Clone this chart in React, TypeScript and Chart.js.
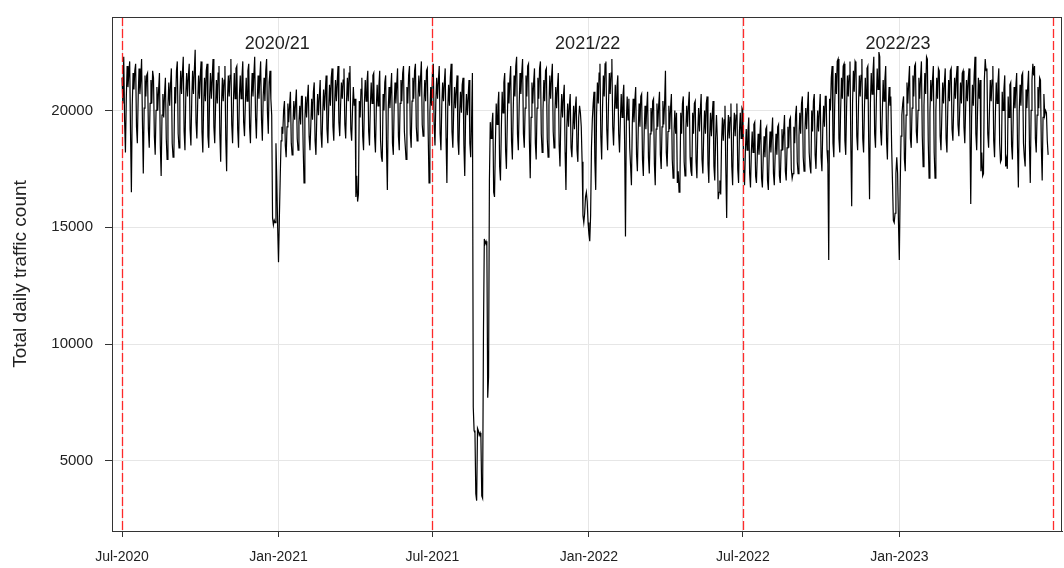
import React, { useEffect, useRef } from 'react';
import { Chart, registerables } from 'chart.js';

Chart.register(...registerables);

const FONT = '"Liberation Sans", Arial, sans-serif';

const startDate = '2020-07-01';
const tickDates = ['2020-07-01', '2021-01-01', '2021-07-01', '2022-01-01', '2022-07-01', '2023-01-01'];
const tickLabels = ['Jul-2020', 'Jan-2021', 'Jul-2021', 'Jan-2022', 'Jul-2022', 'Jan-2023'];
const seasonBoundaryDates = ['2020-07-01', '2021-07-01', '2022-07-01', '2023-07-01'];
const seasonLabels = ['2020/21', '2021/22', '2022/23'];
const yTicks = [5000, 10000, 15000, 20000];

// Daily totals, 1 Jul 2020 - 30 Jun 2021
const traffic2020_21 = [
  21400, 20300, 22300, 19600, 18200,
  20500, 21900, 21000, 21600, 22100, 19000, 16500,
  20200, 21600, 20900, 21700, 22000, 19300, 18600,
  20600, 21800, 20700, 21300, 22200, 19500, 17300,
  20100, 21500, 20600, 21500, 21600, 19200, 18400,
  20300, 21300, 20300, 21700, 21400, 18900, 18100,
  20000, 21000, 20000, 20900, 21600, 18500, 17200,
  19800, 20700, 19700, 20700, 21400, 18800, 17900,
  20200, 21200, 20200, 21100, 21800, 18600, 18000,
  18200, 21000, 20300, 21700, 22100, 19000, 18400,
  20600, 21700, 20700, 21600, 22300, 19100, 18300,
  20700, 21600, 20600, 21500, 22000, 19200, 18500,
  20500, 21700, 20700, 21700, 22600, 19500, 18800,
  20400, 21500, 20500, 21500, 22100, 19100, 18200,
  20300, 21400, 20400, 21700, 22000, 18900, 18400,
  20600, 21600, 20500, 21400, 22200, 19300, 18600,
  20200, 21300, 20300, 21600, 21900, 19000, 17800,
  20300, 21400, 20400, 21300, 21900, 18700, 17400,
  20500, 21500, 20600, 21500, 22200, 19400, 18600,
  20400, 21600, 20500, 21800, 21900, 19200, 18400,
  20600, 21500, 20500, 21400, 22100, 19500, 18900,
  20300, 21400, 20400, 21700, 22000, 19300, 18600,
  20500, 21600, 20600, 21500, 22300, 19700, 18800,
  20400, 21500, 20500, 21400, 22100, 19600, 18700,
  20600, 21400, 20400, 21700, 22200, 19900, 19000,
  21200, 21700, 20500, 19800, 15400, 15100, 15300,
  15200, 18600, 17000, 15000, 13500, 15400, 17100,
  18700, 19300, 19000, 20000, 20400, 18500, 18000,
  19300, 20300, 19500, 20200, 20800, 18600, 18100,
  19400, 20400, 19600, 20300, 20900, 18800, 18300,
  19500, 20200, 19400, 20600, 20600, 18400, 16900,
  19600, 20600, 19700, 20500, 21100, 18900, 18300,
  19400, 20500, 19600, 20800, 21200, 18700, 18100,
  19700, 20700, 19800, 20600, 21300, 19000, 18400,
  19900, 20900, 20000, 20800, 21500, 19200, 18600,
  20100, 21100, 20200, 21400, 21800, 19300, 18700,
  20300, 21300, 20400, 21200, 21900, 19500, 18900,
  20200, 21200, 20500, 21300, 21800, 19400, 18800,
  20400, 21400, 20400, 21600, 21900, 19200, 18700,
  20000, 21000, 20200, 20500, 16300, 17200, 16100,
  16400, 20400, 19700, 20900, 21400, 18900, 18300,
  20300, 21300, 20400, 21200, 21700, 19100, 18500,
  20200, 21200, 20300, 21500, 21600, 18900, 18200,
  20100, 21100, 20200, 21000, 21700, 18700, 18000,
  17800, 20700, 20000, 21200, 21500, 18400, 16600,
  20000, 21000, 20100, 20900, 21600, 18600, 18100,
  20200, 21200, 20300, 21100, 21800, 18900, 18300,
  20300, 21300, 20400, 21600, 21900, 19100, 18500,
  17900, 21000, 20300, 21500, 21900, 19000, 18400,
  20400, 21400, 20500, 21700, 22000, 19300, 18700,
  20500, 21500, 20600, 21400, 22100, 19400, 18900,
  20300, 21300, 20400, 21700, 21800, 19000, 16900,
  19900, 21000, 20200,
];

// Daily totals, 1 Jul 2021 - 30 Jun 2022
const traffic2021_22 = [
  21600, 22000, 19400, 18500,
  20400, 21400, 20500, 21300, 21900, 19000, 18300,
  20200, 21200, 20400, 21200, 21800, 18800, 16900,
  20100, 21100, 20200, 21400, 22000, 19100, 18400,
  20000, 21000, 20100, 20900, 21500, 18700, 18100,
  19900, 20800, 19900, 21100, 21400, 18500, 17200,
  19700, 20700, 19800, 20600, 21300, 18600, 18000,
  19500, 21600, 7300, 6300, 6200, 3600, 3300,
  6400, 6300, 6100, 6200, 6000, 3500, 3400,
  10500, 14500, 14300, 14400, 14200, 7700, 8600,
  17000, 19500, 18800, 19400, 19900, 16500, 16300,
  18500, 20300, 19400, 20200, 20800, 17600, 17000,
  19200, 20800, 19900, 21200, 21600, 18300, 17500,
  19500, 21200, 20300, 21300, 21900, 18700, 17900,
  20000, 21500, 20600, 21900, 22300, 19000, 18300,
  20200, 21600, 20700, 21600, 22200, 19000, 18400,
  20100, 21500, 20600, 21900, 22000, 18700, 17100,
  19700, 21200, 20300, 21200, 21800, 18600, 17900,
  20100, 21400, 20500, 21800, 22100, 19000, 18200,
  20000, 21300, 20400, 21700, 21800, 18800, 18000,
  20200, 21500, 20500, 21400, 22000, 19100, 18400,
  19900, 21000, 20100, 21000, 21600, 18500, 17600,
  19700, 20700, 19700, 20600, 21100, 18200, 16600,
  19300, 20300, 19300, 20200, 20700, 18400, 18000,
  19200, 20200, 19200, 20100, 20600, 18300, 17800,
  19700, 20200, 19900, 19300, 17800, 15500, 15200,
  15600, 16300, 16500, 16100, 15200, 14700, 14400,
  15500, 18400, 19600, 20300, 20800, 17800, 16600,
  19800, 21200, 20300, 21600, 22000, 18900, 17900,
  20100, 21500, 20600, 22000, 22100, 19200, 18300,
  20200, 21600, 20700, 21600, 22200, 19300, 18500,
  19900, 21100, 20100, 21000, 21500, 19000, 18200,
  19600, 20700, 19700, 20600, 21100, 18600, 14600,
  19500, 20600, 19600, 20500, 18400, 17600, 16800,
  19400, 20500, 19500, 20400, 21000, 18100, 17400,
  19200, 20300, 19300, 20600, 20700, 17900, 17200,
  19100, 20200, 19200, 20100, 20800, 18000, 17300,
  19000, 20100, 19100, 20400, 20500, 17700, 16800,
  19200, 20300, 19300, 20200, 20800, 18100, 17500,
  19300, 20400, 19400, 20300, 21700, 18200, 17600,
  19100, 20200, 19200, 20100, 20700, 17900, 17100,
  19000, 20000, 19000, 19900, 16900, 17400, 16500,
  16800, 19900, 19000, 20300, 20600, 17800, 17200,
  19200, 20200, 19300, 20200, 20800, 18000, 17400,
  17200, 19900, 19000, 20300, 20400, 17800, 17100,
  19100, 20100, 19100, 20000, 20700, 17900, 17300,
  19000, 20000, 19000, 20300, 20600, 17700, 16900,
  18900, 19900, 18900, 19800, 20400, 17600, 17000,
  18800, 19800, 18800, 16200, 16500, 17000, 16400,
  18700, 19700, 18700, 19600, 20200, 17400, 15400,
  18900, 19800, 18800, 19700, 20300, 17600, 16800,
  19000, 19900, 18900, 19800, 20300, 17500, 16900,
  19100, 19900, 18800, 20100,
];

// Daily totals, 1 Jul 2022 - 25 Jun 2023
const traffic2022_23 = [
  20000, 17400, 16800,
  18300, 19200, 18300, 19100, 19700, 17300, 16700,
  18200, 19100, 18200, 19400, 19500, 17200, 16900,
  18100, 19000, 18100, 18900, 19600, 17100, 16700,
  18000, 18900, 18000, 19200, 19300, 17000, 16600,
  18200, 19100, 18200, 19000, 19700, 17300, 16800,
  18100, 19000, 18100, 19300, 19400, 17200, 16900,
  18300, 19200, 18300, 19100, 19800, 17400, 17000,
  18400, 19300, 18400, 19600, 19700, 17500, 17100,
  17300, 19300, 18600, 19800, 20200, 17800, 17300,
  18900, 19900, 19000, 20300, 20600, 18000, 17400,
  19100, 20100, 19200, 20100, 20800, 18200, 17600,
  17300, 20000, 19100, 20400, 20700, 18100, 17500,
  19000, 20000, 19100, 20000, 20700, 18000, 17400,
  19200, 20200, 19300, 20600, 20600, 18300, 17700,
  13600, 20500, 20000, 21400, 21900, 18600, 18000,
  20200, 21600, 20700, 22100, 22200, 18800, 18200,
  20000, 21400, 20500, 21900, 22000, 18700, 18100,
  20100, 21500, 20600, 21500, 22100, 18500, 15900,
  20300, 21700, 20800, 22100, 22000, 18900, 18300,
  20200, 21500, 20600, 21500, 22200, 18800, 18200,
  20100, 21400, 20500, 21800, 21900, 18600, 16200,
  20300, 21600, 20700, 21600, 22300, 19000, 18400,
  20400, 21800, 20900, 22500, 22300, 19100, 18500,
  19900, 21300, 20400, 21300, 21900, 18700, 17900,
  20100, 21000, 20200, 20600, 18400, 16900, 15300,
  15200, 15600, 17300, 18000, 17300, 15200, 13600,
  16600, 18900, 19800, 20300, 20600, 17900, 17400,
  19800, 21200, 20300, 21200, 21900, 18800, 18400,
  20100, 21500, 20600, 21900, 22000, 19100, 18600,
  20000, 21400, 20500, 21400, 22100, 18900, 17600,
  20200, 21600, 20700, 22300, 22200, 18700, 17100,
  19900, 21300, 20400, 21300, 21900, 18200, 17100,
  20000, 21400, 20500, 21800, 21700, 18900, 18300,
  19800, 21200, 20300, 21200, 21800, 18800, 18200,
  20100, 21300, 20400, 21700, 21800, 19200, 18700,
  20200, 21400, 20500, 21400, 21900, 19400, 18900,
  20000, 21200, 20300, 21600, 21700, 19300, 18600,
  20100, 21300, 20400, 21300, 21800, 19100, 16000,
  19700, 21100, 20200, 21500, 22300, 19000, 18300,
  20000, 21400, 20500, 21300, 17400, 18200, 17200,
  17300, 21300, 22200, 21700, 21800, 19000, 18400,
  20000, 21300, 20400, 21300, 21900, 18700, 18000,
  19900, 21200, 20300, 21200, 21800, 18600, 17800,
  17900, 20800, 20000, 20900, 21500, 17600, 17900,
  17500, 20600, 19700, 21100, 21200, 18500, 17900,
  19800, 21000, 20100, 21000, 21600, 18400, 16700,
  19900, 21100, 20200, 21500, 21600, 18600, 18000,
  17600, 20900, 20100, 21000, 21700, 18500, 16900,
  20000, 21300, 22000, 21500, 21900, 18800, 18200,
  19800, 21000, 20100, 21400, 21300, 18400, 17000,
  19700, 20700, 19800, 20000, 19900, 18700, 18100,
];

const X_MIN = -11.8;
const X_MAX = 1105.3;
const Y_MIN = 2000;
const Y_MAX = 24000;

const dayOf = (iso: string) =>
  Math.round((Date.parse(iso + 'T00:00:00Z') - Date.parse(startDate + 'T00:00:00Z')) / 86400000);

export default function App() {
  const ref = useRef<HTMLCanvasElement | null>(null);

  useEffect(() => {
    if (!ref.current) return;
    const values = [...traffic2020_21, ...traffic2021_22, ...traffic2022_23];
    const points = values.map((v, i) => ({ x: i, y: v }));
    const tickDays = tickDates.map(dayOf);
    const boundaryDays = seasonBoundaryDates.map(dayOf);

    const overlay = {
      id: 'overlay',
      afterDatasetsDraw(chart: any) {
        const { ctx, chartArea, scales } = chart;
        const xs = scales.x;
        ctx.save();
        ctx.beginPath();
        ctx.rect(chartArea.left, chartArea.top, chartArea.right - chartArea.left, chartArea.bottom - chartArea.top);
        ctx.clip();
        ctx.strokeStyle = 'rgba(255,20,20,0.9)';
        ctx.lineWidth = 1.3;
        ctx.setLineDash([9, 3]);
        boundaryDays.forEach((d) => {
          const px = Math.round(xs.getPixelForValue(d)) + 0.5;
          ctx.beginPath();
          ctx.moveTo(px, chartArea.top);
          ctx.lineTo(px, chartArea.bottom);
          ctx.stroke();
        });
        ctx.setLineDash([]);
        ctx.fillStyle = '#222';
        ctx.font = `18px ${FONT}`;
        ctx.textAlign = 'center';
        ctx.textBaseline = 'middle';
        seasonLabels.forEach((lab, i) => {
          const mid = (boundaryDays[i] + boundaryDays[i + 1]) / 2;
          ctx.fillText(lab, xs.getPixelForValue(mid), chartArea.top + 27);
        });
        ctx.restore();
        ctx.save();
        ctx.strokeStyle = '#333';
        ctx.lineWidth = 1;
        ctx.strokeRect(chartArea.left + 0.5, chartArea.top + 0.5, chartArea.right - chartArea.left - 1, chartArea.bottom - chartArea.top);
        ctx.restore();
      },
    };

    const chart = new Chart(ref.current, {
      type: 'line',
      data: {
        datasets: [
          {
            data: points,
            borderColor: '#000',
            borderWidth: 1.2,
            pointRadius: 0,
            tension: 0,
          },
        ],
      },
      options: {
        animation: false,
        responsive: false,
        devicePixelRatio: 1,
        layout: { padding: { left: 0, top: 17, right: 2, bottom: 0 } },
        plugins: { legend: { display: false }, tooltip: { enabled: false } },
        scales: {
          x: {
            type: 'linear',
            min: X_MIN,
            max: X_MAX,
            afterBuildTicks: (scale: any) => {
              scale.ticks = tickDays.map((d) => ({ value: d }));
            },
            afterFit: (scale: any) => {
              scale.height = 37;
              scale.paddingLeft = 0;
              scale.paddingRight = 0;
            },
            ticks: {
              autoSkip: false,
              maxRotation: 0,
              padding: 12,
              color: '#222',
              font: { size: 14, family: FONT },
              callback: (value: any) => {
                const i = tickDays.indexOf(Number(value));
                return i >= 0 ? tickLabels[i] : '';
              },
            },
            grid: { color: '#e6e6e6', tickColor: '#333', tickLength: 6, lineWidth: 1 },
            border: { display: true, color: '#333', width: 1 },
          },
          y: {
            type: 'linear',
            min: Y_MIN,
            max: Y_MAX,
            afterBuildTicks: (scale: any) => {
              scale.ticks = yTicks.map((v) => ({ value: v }));
            },
            afterFit: (scale: any) => {
              scale.width = 112;
              scale.paddingTop = 0;
              scale.paddingBottom = 0;
            },
            ticks: {
              padding: 12,
              color: '#222',
              font: { size: 15, family: FONT },
              callback: (value: any) => String(value),
            },
            grid: { color: '#e6e6e6', tickColor: '#333', tickLength: 7, lineWidth: 1 },
            border: { display: true, color: '#333', width: 1 },
            title: {
              display: true,
              text: 'Total daily traffic count',
              color: '#222',
              font: { size: 19, family: FONT },
              padding: { top: 9, bottom: 0 },
            },
          },
        },
      },
      plugins: [overlay],
    } as any);

    return () => chart.destroy();
  }, []);

  return (
    <div style={{ position: 'absolute', left: 0, top: 0, width: 1064, height: 568, background: '#fff' }}>
      <canvas ref={ref} width={1064} height={568} style={{ width: 1064, height: 568, display: 'block' }} />
    </div>
  );
}
